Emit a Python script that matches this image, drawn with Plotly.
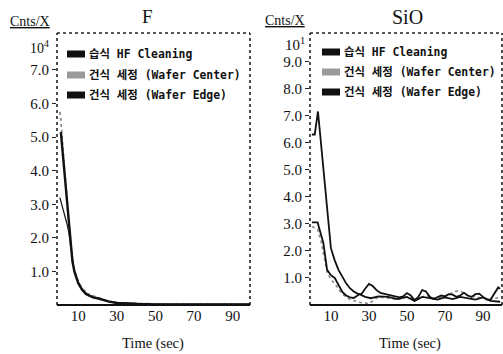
import plotly.graph_objects as go

# ---------------- data ----------------
# F panel (x10^4 counts)
t_F_wet = [1, 2, 3, 4, 5, 6, 7, 8, 9, 10, 12, 14, 16, 18, 20, 23, 26, 30, 35, 40, 50, 60, 70, 80, 90, 99]
F_wet = [5.15, 4.5, 3.8, 3.1, 2.4, 1.75, 1.3, 1.0, 0.8, 0.65, 0.45, 0.33, 0.27, 0.22, 0.2, 0.15, 0.1, 0.06,
         0.04, 0.03, 0.02, 0.02, 0.02, 0.03, 0.02, 0.02]
t_F_center = [0.5, 1, 2, 3, 4, 5, 6, 7, 8, 10, 12, 15, 20, 25, 30, 40, 50, 60, 70, 80, 90, 99]
F_center = [5.75, 5.5, 4.7, 3.9, 3.1, 2.4, 1.8, 1.35, 1.05, 0.7, 0.5, 0.33, 0.22, 0.12, 0.07, 0.04, 0.03,
            0.03, 0.03, 0.03, 0.03, 0.03]
t_F_edge = [0.5, 2, 4, 5, 6, 7, 8, 10, 12, 15, 20, 25, 30, 40, 50, 60, 70, 80, 90, 99]
F_edge = [3.2, 2.9, 2.45, 2.2, 1.75, 1.3, 1.0, 0.68, 0.48, 0.3, 0.2, 0.12, 0.07, 0.04, 0.03, 0.02, 0.02,
          0.02, 0.02, 0.02]

# SiO panel (x10^1 counts)
t_S_wet = [0, 3, 4, 6, 8, 10, 12, 14, 16, 18, 20, 22, 25, 28, 31, 35, 40, 45, 50, 54, 58, 62, 66, 70, 74,
           78, 82, 86, 90, 94, 99]
S_wet = [3.05, 3.05, 2.8, 2.3, 1.3, 1.1, 1.0, 0.75, 0.48, 0.35, 0.28, 0.26, 0.4, 0.3, 0.25, 0.32, 0.3, 0.22,
         0.3, 0.15, 0.3, 0.25, 0.2, 0.28, 0.22, 0.3, 0.25, 0.2, 0.28, 0.15, 0.12]
t_S_center = [0, 3, 5, 8, 10, 13, 16, 20, 25, 30, 35, 40, 45, 50, 55, 60, 65, 70, 75, 78, 82, 86, 90, 95, 99]
S_center = [2.9, 2.8, 2.3, 1.2, 0.95, 0.7, 0.4, 0.2, 0.1, 0.05, 0.3, 0.25, 0.2, 0.3, 0.2, 0.35, 0.25, 0.3,
            0.5, 0.52, 0.35, 0.3, 0.25, 0.2, 0.3]
t_S_edge = [0, 1.5, 3.2, 4, 6, 8, 10, 12, 14, 16, 18, 20, 22, 24, 26, 28, 30, 32, 34, 36, 38, 40, 43, 46, 48,
            50, 52, 54, 56, 58, 60, 62, 64, 66, 68, 70, 72, 74, 76, 78, 80, 82, 84, 86, 88, 90, 92, 94, 96,
            98, 99]
S_edge = [6.3, 6.3, 7.15, 6.55, 5.0, 3.5, 2.1, 1.65, 1.3, 1.05, 0.8, 0.62, 0.5, 0.42, 0.4, 0.6, 0.78, 0.7,
          0.55, 0.45, 0.42, 0.38, 0.33, 0.28, 0.32, 0.44, 0.35, 0.18, 0.3, 0.55, 0.5, 0.3, 0.22, 0.3, 0.35,
          0.32, 0.4, 0.38, 0.3, 0.35, 0.45, 0.35, 0.3, 0.4, 0.42, 0.3, 0.2, 0.2, 0.45, 0.65, 0.6]

legend_labels = ["습식 HF Cleaning", "건식 세정 (Wafer Center)", "건식 세정 (Wafer Edge)"]
F_ticks = [1, 2, 3, 4, 5, 6, 7]
F_ticklabels = ["1.0", "2.0", "3.0", "4.0", "5.0", "6.0", "7.0"]
S_ticks = [1, 2, 3, 4, 5, 6, 7, 8, 9]
S_ticklabels = ["1.0", "2.0", "3.0", "4.0", "5.0", "6.0", "7.0", "8.0", "9.0"]
x_ticks = [10, 30, 50, 70, 90]

# ---------------- figure ----------------
SERIF = "Liberation Serif, Times New Roman, serif"
MONO = "DejaVu Sans Mono, Noto Sans CJK KR, monospace"
fig = go.Figure()

BLACK = "#111111"
GREY = "#8a8a8a"

def add(x, y, xa, ya, color, width, dash="solid"):
    fig.add_trace(go.Scatter(x=x, y=y, xaxis=xa, yaxis=ya, mode="lines",
                             line=dict(color=color, width=width, dash=dash, shape="linear"),
                             showlegend=False, hoverinfo="skip"))

add(t_F_edge, F_edge, "x", "y", BLACK, 1.2)
add(t_F_center, F_center, "x", "y", GREY, 1.8, "dot")
add(t_F_wet, F_wet, "x", "y", BLACK, 2.4)

add(t_S_center, S_center, "x2", "y2", GREY, 1.6, "dot")
add(t_S_wet, S_wet, "x2", "y2", BLACK, 1.8)
add(t_S_edge, S_edge, "x2", "y2", BLACK, 1.8)

W, H = 503, 354
def px(v):
    return v / W
def py(v):
    return 1 - v / H

ydom = [py(305), py(33)]
tickfont = dict(family=SERIF, size=15, color="#111")
axis_common = dict(showgrid=False, zeroline=False, tickfont=tickfont, ticks="outside",
                   ticklen=4, tickcolor="#222", showline=False)

fig.update_layout(
    width=W, height=H, margin=dict(l=0, r=0, t=0, b=0),
    paper_bgcolor="white", plot_bgcolor="white", showlegend=False,
    xaxis=dict(domain=[px(57), px(250)], range=[-1, 99], tickvals=x_ticks, anchor="y",
               **{**axis_common, "ticks": "", "ticklen": 0}),
    yaxis=dict(domain=ydom, range=[0, 8.1], tickvals=F_ticks, ticktext=F_ticklabels, anchor="x",
               **axis_common),
    xaxis2=dict(domain=[px(310), px(502)], range=[-1, 100], tickvals=x_ticks, anchor="y2",
                **{**axis_common, "ticks": "", "ticklen": 0}),
    yaxis2=dict(domain=ydom, range=[0, 10.05], tickvals=S_ticks, ticktext=S_ticklabels, anchor="x2",
                **axis_common),
)

shapes = []
for xr, yr in [("x domain", "y domain"), ("x2 domain", "y2 domain")]:
    # dotted frame: left, top, right
    for (x0, y0, x1, y1) in [(0, 0, 0, 1), (0, 1, 1, 1), (1, 0, 1, 1)]:
        shapes.append(dict(type="line", xref=xr, yref=yr, x0=x0, y0=y0, x1=x1, y1=y1,
                           line=dict(color="#222", width=1.6, dash="dot")))
    # bottom axis
    shapes.append(dict(type="line", xref=xr, yref=yr, x0=0, y0=0, x1=1, y1=0,
                       line=dict(color="#111", width=2.2)))

annotations = []
def ann(text, x, y, size, family=SERIF, xanchor="center"):
    annotations.append(dict(text=text, x=px(x), y=py(y), xref="paper", yref="paper",
                            showarrow=False, xanchor=xanchor, yanchor="middle",
                            font=dict(family=family, size=size, color="#111")))

# titles / labels
ann("F", 147, 17, 19)
ann("SiO", 407, 17, 20)
ann("<u>Cnts/X</u>", 30, 22, 14)
ann("<u>Cnts/X</u>", 285, 20, 14)
ann("10<sup>4</sup>", 51, 47, 14, xanchor="right")
ann("10<sup>1</sup>", 307, 44, 15, xanchor="right")
ann("Time (sec)", 153, 343, 14.5)
ann("Time (sec)", 410, 343, 14.5)

# legends
leg_colors = [BLACK, "#9a9a9a", BLACK]
for (lx, ys) in [(67, [54, 75, 95]), (322, [52, 72, 92])]:
    for lab, col, yy in zip(legend_labels, leg_colors, ys):
        shapes.append(dict(type="rect", xref="paper", yref="paper",
                           x0=px(lx), x1=px(lx + 18), y0=py(yy + 3.5), y1=py(yy - 3.5),
                           line=dict(width=0), fillcolor=col))
        annotations.append(dict(text="<b>" + lab + "</b>", x=px(lx + 20), y=py(yy), xref="paper",
                                yref="paper", showarrow=False, xanchor="left", yanchor="middle",
                                font=dict(family=MONO, size=11.4, color="#111")))

fig.update_layout(shapes=shapes, annotations=annotations)
fig.write_html("out.html", config={"responsive": False, "displayModeBar": False},
               post_script="document.body.style.margin='0';document.body.style.padding='0';"
                           "document.documentElement.style.overflow='hidden';")
